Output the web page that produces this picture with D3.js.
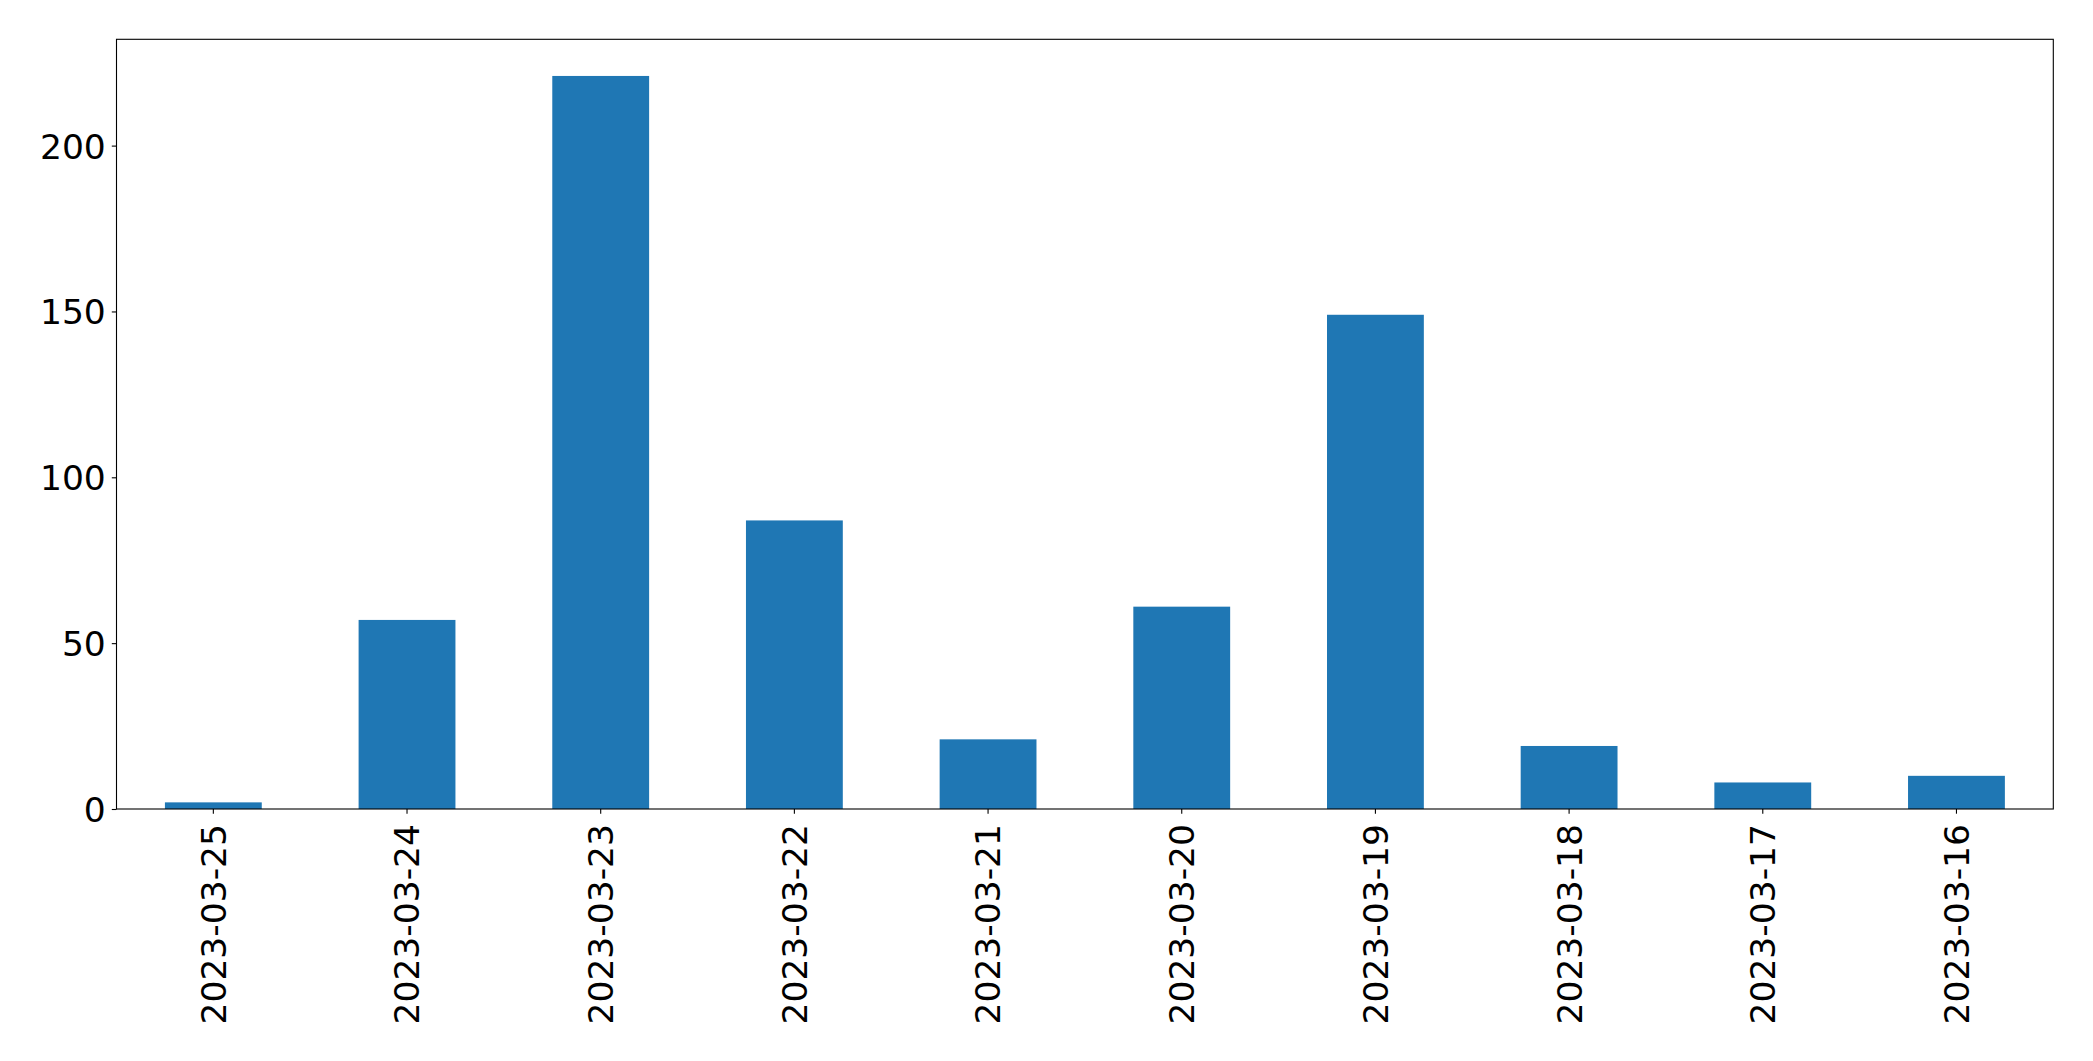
<!DOCTYPE html>
<html>
<head>
<meta charset="utf-8">
<script src="https://cdn.jsdelivr.net/npm/d3@7"></script>
<style>
  html, body { margin: 0; padding: 0; background: #ffffff; }
  svg { display: block; }
</style>
</head>
<body>
<svg id="chart" width="2093" height="1061"></svg>
<script>
// ---- data ----
const categories = ["2023-03-25", "2023-03-24", "2023-03-23", "2023-03-22", "2023-03-21",
                    "2023-03-20", "2023-03-19", "2023-03-18", "2023-03-17", "2023-03-16"];
const values = [2, 57, 221, 87, 21, 61, 149, 19, 8, 10];
const yTicks = [0, 50, 100, 150, 200];

// ---- layout ----
const W = 2093, H = 1061;
const margin = { left: 116.5, right: W - 2053.3, top: 39.3, bottom: H - 809 };
const fontSize = 34.5;
const barColor = "#1f77b4";

const svg = d3.select("#chart");
const innerW = W - margin.left - margin.right;
const innerH = H - margin.top - margin.bottom;

const x = d3.scaleBand().domain(categories).range([margin.left, margin.left + innerW])
  .paddingInner(0.5).paddingOuter(0.25);
const y = d3.scaleLinear().domain([0, d3.max(values) * 1.05]).range([margin.top + innerH, margin.top]);

// bars
svg.append("g").selectAll("rect").data(values).join("rect")
  .attr("x", (d, i) => x(categories[i]))
  .attr("width", x.bandwidth())
  .attr("y", d => y(d))
  .attr("height", d => y(0) - y(d))
  .attr("fill", barColor);

// y axis
const yAxis = svg.append("g").attr("transform", `translate(${margin.left},0)`)
  .call(d3.axisLeft(y).tickValues(yTicks).tickSize(4.7).tickPadding(6).tickFormat(d3.format("d")));
yAxis.select(".domain").remove();
yAxis.selectAll(".tick line").attr("stroke", "#000").attr("stroke-width", 1.1);
yAxis.selectAll(".tick text")
  .attr("font-family", "DejaVu Sans")
  .attr("font-size", fontSize)
  .attr("fill", "#000")
  .attr("dy", "0.36em");

// x axis
const xAxis = svg.append("g").attr("transform", `translate(0,${margin.top + innerH})`)
  .call(d3.axisBottom(x).tickSize(4.7).tickPadding(0));
xAxis.select(".domain").remove();
xAxis.selectAll(".tick line").attr("stroke", "#000").attr("stroke-width", 1.1);
xAxis.selectAll(".tick text")
  .attr("font-family", "DejaVu Sans")
  .attr("font-size", fontSize)
  .attr("fill", "#000")
  .attr("text-anchor", "end")
  .attr("transform", "rotate(-90)")
  .attr("x", -15)
  .attr("y", 0)
  .attr("dy", "0.36em");

// frame
svg.append("rect")
  .attr("x", margin.left).attr("y", margin.top)
  .attr("width", innerW).attr("height", innerH)
  .attr("fill", "none").attr("stroke", "#000").attr("stroke-width", 1.1);
</script>
</body>
</html>
